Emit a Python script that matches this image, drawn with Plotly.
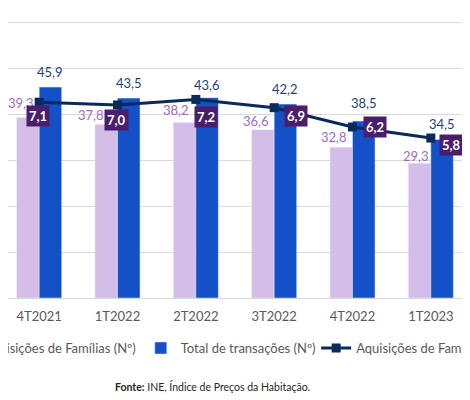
import plotly.graph_objects as go

# dados
trimestres = ["4T2021", "1T2022", "2T2022", "3T2022", "4T2022", "1T2023"]
aquisicoes_familias_n = [39.3, 37.8, 38.2, 36.6, 32.8, 29.3]
total_transacoes_n = [45.9, 43.5, 43.6, 42.2, 38.5, 34.5]
aquisicoes_familias_valor = [7.1, 7.0, 7.2, 6.9, 6.2, 5.8]

nome_familias = "Aquisições de Famílias (Nº)"
nome_total = "Total de transações (Nº)"
nome_valor = "Aquisições de Famílias (mil milhões €)"

# cores
c_lilas = "#D4BDE8"
c_azul = "#1450C8"
c_navy = "#0B2A5C"
c_caixa = "#4B1E6B"
c_txt_lilas = "#9C6BC6"
c_txt_azul = "#1F3F7F"
fonte = "Lato, Noto Sans, sans-serif"

# deslocamentos dos rótulos (pixels), como no original
lilas_dx = [-18, -27, -20, -18, -19, -15]
lilas_dy = [14, 9, 12, 9, 10, 7]
azul_dy = [15, 15, 13, 15, 18, 15]
caixa_dx = [-1, -1, 10, 22, 22, 21]
caixa_dy = [14, 15, 18, 8, 0, 7]


def fmt(v):
    return f"{v:.1f}".replace(".", ",")


fig = go.Figure()

fig.add_trace(go.Bar(
    x=trimestres, y=aquisicoes_familias_n, name=nome_familias,
    marker_color=c_lilas, legend="legend",
))
fig.add_trace(go.Bar(
    x=trimestres, y=total_transacoes_n, name=nome_total,
    marker_color=c_azul, legend="legend",
))
fig.add_trace(go.Scatter(
    x=trimestres, y=aquisicoes_familias_valor, name=nome_valor,
    mode="lines+markers", yaxis="y2", legend="legend2",
    line=dict(color=c_navy, width=3),
    marker=dict(symbol="square", size=9, color=c_navy),
))

anns = []
for i, cat in enumerate(trimestres):
    anns.append(dict(
        x=cat, y=aquisicoes_familias_n[i], xref="x", yref="y",
        text=fmt(aquisicoes_familias_n[i]), showarrow=False,
        xshift=lilas_dx[i], yshift=lilas_dy[i],
        font=dict(family=fonte, size=13, color=c_txt_lilas),
    ))
    anns.append(dict(
        x=cat, y=total_transacoes_n[i], xref="x", yref="y",
        text=fmt(total_transacoes_n[i]), showarrow=False,
        xshift=11, yshift=azul_dy[i],
        font=dict(family=fonte, size=13, color=c_txt_azul),
    ))
for i, cat in enumerate(trimestres):
    anns.append(dict(
        x=cat, y=aquisicoes_familias_valor[i], xref="x", yref="y2",
        text="<b>" + fmt(aquisicoes_familias_valor[i]) + "</b>", showarrow=False,
        xshift=caixa_dx[i], yshift=-caixa_dy[i],
        bgcolor=c_caixa, borderpad=2,
        font=dict(family=fonte, size=13, color="white"),
    ))

anns.append(dict(
    x=0.4416, y=-0.32, xref="paper", yref="paper",
    xanchor="center", yanchor="middle",
    text="<b>Fonte:</b> INE, Índice de Preços da Habitação.", showarrow=False,
    font=dict(family=fonte, size=10.5, color="#262626"),
))

fig.update_layout(
    width=500, height=400,
    margin=dict(l=0, r=38, t=12, b=110, autoexpand=False),
    plot_bgcolor="white", paper_bgcolor="white",
    barmode="group", bargap=0.425, bargroupgap=0,
    separators=", ",
    font=dict(family=fonte, color="#595959"),
    annotations=anns,
    legend=dict(
        orientation="h", x=-0.140, xanchor="left", y=-0.18, yanchor="middle",
        font=dict(family=fonte, size=13, color="#595959"),
        bgcolor="rgba(0,0,0,0)",
    ),
    legend2=dict(
        orientation="h", x=0.667, xanchor="left", y=-0.18, yanchor="middle",
        font=dict(family=fonte, size=13, color="#595959"),
        bgcolor="rgba(0,0,0,0)",
    ),
    xaxis=dict(
        type="category", range=[-0.398, 5.5], showgrid=False,
        showline=True, linecolor="#D9D9D9", linewidth=1, ticks="",
        ticklabelstandoff=6,
        tickfont=dict(family=fonte, size=13, color="#595959"),
    ),
    yaxis=dict(
        range=[0, 60.5], dtick=10, showgrid=True, gridcolor="#D9D9D9",
        showticklabels=False, zeroline=False,
    ),
    yaxis2=dict(
        range=[0, 10.08], overlaying="y", side="right", showgrid=False,
        showticklabels=False, zeroline=False,
    ),
)

fig.write_html("out.html")
